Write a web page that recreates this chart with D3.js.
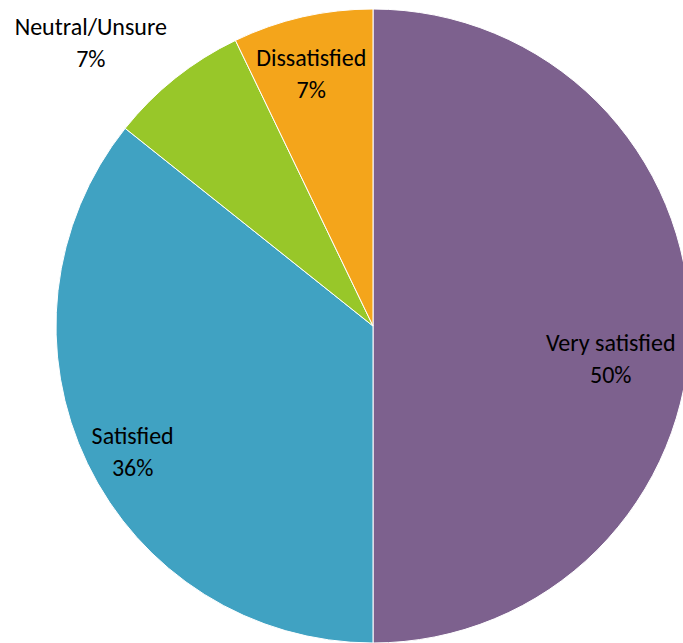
<!DOCTYPE html>
<html><head><meta charset="utf-8">
<script src="https://cdn.jsdelivr.net/npm/d3@7"></script>
<style>html,body{margin:0;padding:0;background:#fff;overflow:hidden}</style>
</head><body>
<svg id="chart" width="683" height="643"></svg>
<script>
const categories = ["Very satisfied", "Satisfied", "Neutral/Unsure", "Dissatisfied"];
const counts = [14, 10, 2, 2];
const colors = ["#7d618e", "#40a2c2", "#98c729", "#f4a51b"];

const W = 683, H = 643, cx = 373, cy = 326, R = 317;
const total = d3.sum(counts);
const svg = d3.select("#chart");
const g = svg.append("g").attr("transform", `translate(${cx},${cy})`);
const pie = d3.pie().sort(null).value(d => d)(counts);
const arc = d3.arc().innerRadius(0).outerRadius(R);
g.selectAll("path").data(pie).join("path")
  .attr("d", arc).attr("fill", (d, i) => colors[i])
  .attr("stroke", "#fff").attr("stroke-width", 1);

// label placement (radius, angle shift in degrees) per slice
const lab = [{r: 240, da: 7.9}, {r: 271, da: -1.8}, {r: 400, da: -6.3}, {r: 260, da: -0.9}];
const fmt = d3.format(".0%");
pie.forEach((d, i) => {
  const a = (d.startAngle + d.endAngle) / 2 + lab[i].da * Math.PI / 180;
  const x = lab[i].r * Math.sin(a), y = -lab[i].r * Math.cos(a);
  const t = g.append("text").attr("text-anchor", "middle")
    .attr("font-family", "Carlito, Lato, 'Liberation Sans', sans-serif")
    .attr("font-size", 24).attr("fill", "#000");
  t.append("tspan").attr("x", x).attr("y", y - 16).attr("dy", "0.35em").text(categories[i]);
  t.append("tspan").attr("x", x).attr("y", y + 16).attr("dy", "0.35em").text(fmt(d.value / total));
});
</script>
</body></html>
